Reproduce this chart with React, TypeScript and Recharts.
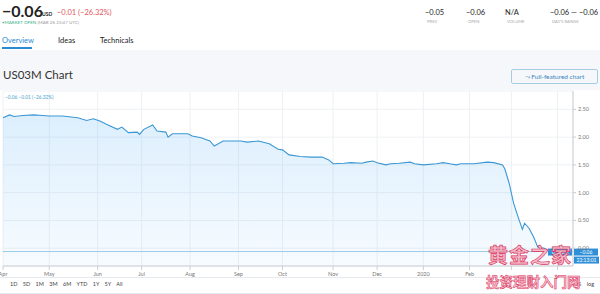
import React from "react";
import {
  ComposedChart,
  Area,
  XAxis,
  YAxis,
  CartesianGrid,
  ReferenceLine,
} from "recharts";

// trading-day index from 1 Apr 2019
const days = [
  0, 3, 5, 9, 14, 18, 21, 27, 34, 38, 41, 44, 47, 52, 54, 57, 61, 62, 64, 68,
  70, 74, 75, 77, 84, 86, 90, 94, 96, 100, 108, 111, 116, 121, 125, 127, 130,
  135, 140, 145, 148, 150, 155, 158, 163, 165, 168, 170, 174, 176, 180, 185,
  187, 191, 197, 200, 203, 206, 208, 214, 220, 223, 227, 228, 230, 232, 234,
  236, 237, 239, 241, 243, 246, 248,
];
const yields = [
  2.35, 2.4, 2.37, 2.39, 2.4, 2.39, 2.38, 2.38, 2.35, 2.3, 2.33, 2.29, 2.23,
  2.14, 2.18, 2.08, 2.09, 2.05, 2.14, 2.22, 2.11, 2.09, 2.0, 2.06, 2.06, 2.02,
  1.99, 1.93, 1.84, 1.93, 1.93, 1.91, 1.93, 1.88, 1.78, 1.77, 1.68, 1.65, 1.64,
  1.64, 1.59, 1.52, 1.53, 1.54, 1.53, 1.55, 1.57, 1.54, 1.5, 1.52, 1.53, 1.55,
  1.52, 1.5, 1.52, 1.54, 1.52, 1.5, 1.52, 1.52, 1.55, 1.54, 1.5, 1.43, 1.17,
  0.81, 0.57, 0.34, 0.45, 0.36, 0.21, 0.02, 0.0, -0.06,
];

const monthTicks = [0, 21, 43, 63, 85, 107, 127, 150, 170, 191, 212, 231, 252];
const monthLabels = [
  "Apr", "May", "Jun", "Jul", "Aug", "Sep", "Oct", "Nov", "Dec", "2020", "Feb", "", "",
];
const yTicks = [0, 0.5, 1, 1.5, 2, 2.5];
const lastPrice = -0.06;

const ranges = ["1D", "5D", "1M", "3M", "6M", "YTD", "1Y", "5Y", "All"];
const stats = [
  { value: "\u22120.05", label: "PREV", x: 425 },
  { value: "\u22120.06", label: "OPEN", x: 466 },
  { value: "N/A", label: "VOLUME", x: 505 },
  { value: "\u22120.06 \u2014 \u22120.06", label: "DAY'S RANGE", x: 550 },
];

const data = days.map((d, i) => ({ d, v: yields[i] }));

const font = "Lato, 'Open Sans', sans-serif";

const PriceTag = (props: any) => {
  const { viewBox } = props;
  const y = viewBox.y;
  const x = viewBox.x + viewBox.width;
  return (
    <g fontFamily={font} fontSize={5}>
      <rect x={x - 25} y={y - 3} width={24} height={7} fill="#2f8fd8" />
      <text x={x - 13} y={y + 2.5} fill="#fff" textAnchor="middle">
        US03M
      </text>
      <rect x={x + 1} y={y - 3} width={24} height={7} fill="#2f8fd8" />
      <text x={x + 13} y={y + 2.5} fill="#fff" textAnchor="middle">
        {"\u22120.06"}
      </text>
      <rect x={x + 1} y={y + 5} width={25} height={7} fill="#2f8fd8" />
      <text x={x + 13.5} y={y + 10.5} fill="#fff" textAnchor="middle">
        22:13:01
      </text>
    </g>
  );
};

export default function App() {
  return (
    <div
      style={{
        position: "absolute",
        left: 0,
        top: 0,
        width: 600,
        height: 294,
        overflow: "hidden",
        background: "#fff",
        fontFamily: font,
        color: "#222",
      }}
    >
      {/* header */}
      <div style={{ position: "absolute", left: 2, top: 2, fontSize: 16, fontWeight: 700, lineHeight: "18px" }}>
        {"\u22120.06"}
      </div>
      <div style={{ position: "absolute", left: 42, top: 11, fontSize: 5, fontWeight: 700 }}>USD</div>
      <div style={{ position: "absolute", left: 57, top: 8, fontSize: 7.5, color: "#e0565b" }}>
        {"\u22120.01 (\u221226.32%)"}
      </div>
      <div style={{ position: "absolute", left: 2, top: 20, fontSize: 4.5, color: "#999" }}>
        <span style={{ color: "#3cb28a" }}>{"\u2022MARKET OPEN"}</span> (MAR 26 23:47 UTC)
      </div>
      {stats.map((s) => (
        <div key={s.label} style={{ position: "absolute", left: s.x, top: 8 }}>
          <div style={{ fontSize: 7.5, lineHeight: "9px" }}>{s.value}</div>
          <div style={{ fontSize: 4.2, color: "#aaa", marginTop: 2, marginLeft: 2 }}>{s.label}</div>
        </div>
      ))}

      {/* tabs */}
      <div style={{ position: "absolute", left: 2, top: 36, fontSize: 7.5, color: "#2a8ad4" }}>Overview</div>
      <div style={{ position: "absolute", left: 2, top: 47, width: 30, height: 1.5, background: "#2a8ad4" }} />
      <div style={{ position: "absolute", left: 58, top: 36, fontSize: 7.5 }}>Ideas</div>
      <div style={{ position: "absolute", left: 100, top: 36, fontSize: 7.5 }}>Technicals</div>

      {/* grey band */}
      <div style={{ position: "absolute", left: 0, top: 50, width: 600, height: 40, background: "#f5f7fa" }} />
      <div style={{ position: "absolute", left: 3, top: 68, fontSize: 11.5, color: "#333" }}>US03M Chart</div>
      <div
        style={{
          position: "absolute",
          left: 511,
          top: 69,
          width: 85,
          height: 13,
          border: "1px solid #a8cde3",
          borderRadius: 2,
          fontSize: 6.5,
          color: "#3b86bd",
          lineHeight: "13px",
          textAlign: "center",
        }}
      >
        {"\u2933 Full-featured chart"}
      </div>

      {/* chart */}
      <div style={{ position: "absolute", left: 0, top: 88 }}>
        <ComposedChart
          width={600}
          height={190}
          data={data}
          margin={{ top: 3, right: 0, bottom: 0, left: 3 }}
        >
          <defs>
            <linearGradient id="fillBlue" x1="0" y1="0" x2="0" y2="1">
              <stop offset="0%" stopColor="#2196f3" stopOpacity={0.26} />
              <stop offset="100%" stopColor="#2196f3" stopOpacity={0.06} />
            </linearGradient>
          </defs>
          <CartesianGrid stroke="#eef1f4" />
          <XAxis
            dataKey="d"
            type="number"
            domain={[0, 259]}
            ticks={monthTicks}
            tickFormatter={(v: number) => monthLabels[monthTicks.indexOf(v)]}
            interval={0}
            height={12}
            tickSize={4}
            tick={{ fontSize: 5.5, fill: "#777", fontFamily: font }}
            axisLine={{ stroke: "#c9ced4" }}
            tickLine={{ stroke: "#c9ced4" }}
          />
          <YAxis
            orientation="right"
            type="number"
            domain={[-0.32, 2.83]}
            allowDataOverflow
            ticks={yTicks}
            tickFormatter={(v: number) => v.toFixed(2)}
            width={27}
            tickSize={3}
            tick={{ fontSize: 5.5, fill: "#777", fontFamily: font }}
            axisLine={{ stroke: "#c9ced4" }}
            tickLine={{ stroke: "#c9ced4" }}
          />
          <ReferenceLine y={lastPrice} stroke="#9ccbe6" strokeWidth={1} label={<PriceTag />} />
          <Area
            type="linear"
            dataKey="v"
            stroke="#3b97d4"
            strokeWidth={1.1}
            fill="url(#fillBlue)"
            baseValue="dataMin"
            dot={false}
            activeDot={false}
            isAnimationActive={false}
          />
        </ComposedChart>
      </div>
      <div style={{ position: "absolute", left: 5, top: 94, fontSize: 4.8, color: "#4aa3c8" }}>
        {"\u22120.06 \u22120.01 (\u221226.32%)"}
      </div>

      {/* bottom toolbar */}
      <div style={{ position: "absolute", left: 0, top: 277, width: 600, height: 1, background: "#e6e9ed" }} />
      <div style={{ position: "absolute", left: 10, top: 281, fontSize: 5.5, color: "#444", wordSpacing: 4 }}>
        {ranges.join(" ")}
      </div>
      <div style={{ position: "absolute", left: 577, top: 281, fontSize: 5.5, color: "#444", wordSpacing: 4 }}>
        % log
      </div>
      <div style={{ position: "absolute", left: 0, top: 293, width: 600, height: 1, background: "#e6e9ed" }} />

      {/* watermark */}
      <div
        style={{
          position: "absolute",
          left: 488,
          top: 244,
          fontSize: 20,
          fontWeight: 700,
          fontFamily: "'Noto Sans CJK SC', sans-serif",
          color: "rgba(246,180,196,0.9)",
          WebkitTextStroke: "0.7px #d9365e",
          lineHeight: "22px",
          letterSpacing: 1,
        }}
      >
        黄金之家
      </div>
      <div
        style={{
          position: "absolute",
          left: 486,
          top: 273,
          fontSize: 13.5,
          fontWeight: 700,
          fontFamily: "'Noto Sans CJK SC', sans-serif",
          color: "rgba(246,180,196,0.9)",
          WebkitTextStroke: "0.5px #d9365e",
          lineHeight: "16px",
        }}
      >
        投资理财入门网
      </div>
    </div>
  );
}
